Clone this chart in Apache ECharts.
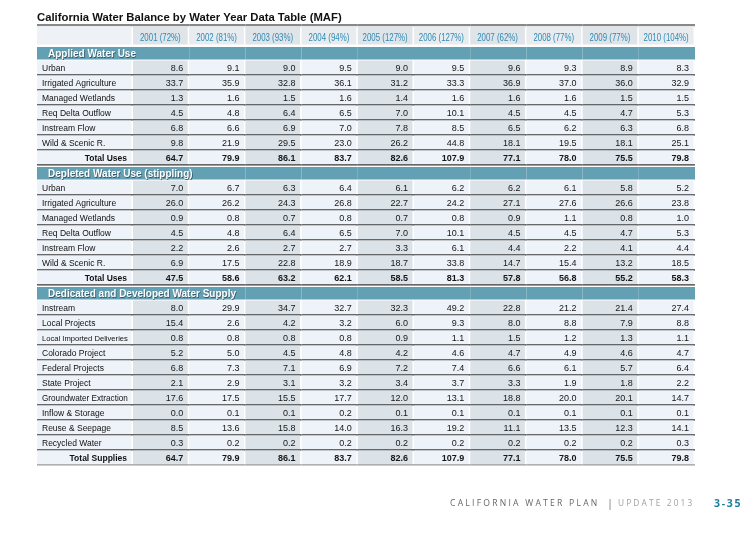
<!DOCTYPE html>
<html>
<head>
<meta charset="utf-8">
<script src="https://cdn.jsdelivr.net/npm/echarts@6/dist/echarts.min.js"></script>
<style>
html, body { margin: 0; padding: 0; background: #fff; }
#main { width: 756px; height: 535px; }
</style>
</head>
<body>
<div id="main"></div>
<script>
// column headings
const years = ['2001 (72%)', '2002 (81%)', '2003 (93%)', '2004 (94%)', '2005 (127%)',
               '2006 (127%)', '2007 (62%)', '2008 (77%)', '2009 (77%)', '2010 (104%)'];

// Applied Water Use
const appliedLabels = ['Urban', 'Irrigated Agriculture', 'Managed Wetlands', 'Req Delta Outflow', 'Instream Flow', 'Wild & Scenic R.'];
const appliedValues = [
    [8.6, 9.1, 9.0, 9.5, 9.0, 9.5, 9.6, 9.3, 8.9, 8.3],
    [33.7, 35.9, 32.8, 36.1, 31.2, 33.3, 36.9, 37.0, 36.0, 32.9],
    [1.3, 1.6, 1.5, 1.6, 1.4, 1.6, 1.6, 1.6, 1.5, 1.5],
    [4.5, 4.8, 6.4, 6.5, 7.0, 10.1, 4.5, 4.5, 4.7, 5.3],
    [6.8, 6.6, 6.9, 7.0, 7.8, 8.5, 6.5, 6.2, 6.3, 6.8],
    [9.8, 21.9, 29.5, 23.0, 26.2, 44.8, 18.1, 19.5, 18.1, 25.1]
];
const appliedTotals = [64.7, 79.9, 86.1, 83.7, 82.6, 107.9, 77.1, 78.0, 75.5, 79.8];

// Depleted Water Use
const depletedLabels = ['Urban', 'Irrigated Agriculture', 'Managed Wetlands', 'Req Delta Outflow', 'Instream Flow', 'Wild & Scenic R.'];
const depletedValues = [
    [7.0, 6.7, 6.3, 6.4, 6.1, 6.2, 6.2, 6.1, 5.8, 5.2],
    [26.0, 26.2, 24.3, 26.8, 22.7, 24.2, 27.1, 27.6, 26.6, 23.8],
    [0.9, 0.8, 0.7, 0.8, 0.7, 0.8, 0.9, 1.1, 0.8, 1.0],
    [4.5, 4.8, 6.4, 6.5, 7.0, 10.1, 4.5, 4.5, 4.7, 5.3],
    [2.2, 2.6, 2.7, 2.7, 3.3, 6.1, 4.4, 2.2, 4.1, 4.4],
    [6.9, 17.5, 22.8, 18.9, 18.7, 33.8, 14.7, 15.4, 13.2, 18.5]
];
const depletedTotals = [47.5, 58.6, 63.2, 62.1, 58.5, 81.3, 57.8, 56.8, 55.2, 58.3];

// Dedicated and Developed Water Supply
const supplyLabels = ['Instream', 'Local Projects', 'Local Imported Deliveries', 'Colorado Project', 'Federal Projects',
                      'State Project', 'Groundwater Extraction', 'Inflow & Storage', 'Reuse & Seepage', 'Recycled Water'];
const supplyValues = [
    [8.0, 29.9, 34.7, 32.7, 32.3, 49.2, 22.8, 21.2, 21.4, 27.4],
    [15.4, 2.6, 4.2, 3.2, 6.0, 9.3, 8.0, 8.8, 7.9, 8.8],
    [0.8, 0.8, 0.8, 0.8, 0.9, 1.1, 1.5, 1.2, 1.3, 1.1],
    [5.2, 5.0, 4.5, 4.8, 4.2, 4.6, 4.7, 4.9, 4.6, 4.7],
    [6.8, 7.3, 7.1, 6.9, 7.2, 7.4, 6.6, 6.1, 5.7, 6.4],
    [2.1, 2.9, 3.1, 3.2, 3.4, 3.7, 3.3, 1.9, 1.8, 2.2],
    [17.6, 17.5, 15.5, 17.7, 12.0, 13.1, 18.8, 20.0, 20.1, 14.7],
    [0.0, 0.1, 0.1, 0.2, 0.1, 0.1, 0.1, 0.1, 0.1, 0.1],
    [8.5, 13.6, 15.8, 14.0, 16.3, 19.2, 11.1, 13.5, 12.3, 14.1],
    [0.3, 0.2, 0.2, 0.2, 0.2, 0.2, 0.2, 0.2, 0.2, 0.3]
];
const supplyTotals = [64.7, 79.9, 86.1, 83.7, 82.6, 107.9, 77.1, 78.0, 75.5, 79.8];

const sections = [
    { title: 'Applied Water Use', labels: appliedLabels, values: appliedValues, total: 'Total Uses', totals: appliedTotals },
    { title: 'Depleted Water Use (stippling)', labels: depletedLabels, values: depletedValues, total: 'Total Uses', totals: depletedTotals },
    { title: 'Dedicated and Developed Water Supply', labels: supplyLabels, values: supplyValues, total: 'Total Supplies', totals: supplyTotals }
];

// flatten into table rows
const rows = [{ kind: 'head' }];
sections.forEach(s => {
    rows.push({ kind: 'section', text: s.title });
    s.labels.forEach((l, k) => rows.push({ kind: 'data', text: l, values: s.values[k] }));
    rows.push({ kind: 'total', text: s.total, values: s.totals });
});
const rowIds = rows.map((r, i) => String(i));

const FONT = '"Liberation Sans", Arial, sans-serif';
const TEAL = '#64a0b3';
const LINE = '#383838';

const measureCtx = document.createElement('canvas').getContext('2d');
function fitSize(text, size, weight, maxW) {
    measureCtx.font = weight + ' ' + size + 'px ' + FONT;
    const w = measureCtx.measureText(text).width;
    return w > maxW ? size * maxW / w : size;
}

function cellBox(api) {
    const c = api.coord([api.value(0), api.value(1)]);
    const s = api.size([1, 1]);
    return { cx: c[0], cy: c[1], x: c[0] - s[0] / 2, y: c[1] - s[1] / 2, w: s[0], h: s[1] };
}

function renderLabel(params, api) {
    const b = cellBox(api);
    const row = rows[api.value(1)];
    const last = api.value(1) === rows.length - 1;
    const kids = [];
    if (row.kind === 'head') {
        kids.push({ type: 'rect', shape: { x: b.x, y: b.y - 6.5, width: b.w, height: 2.2 }, style: { fill: '#888' } });
        kids.push({ type: 'rect', shape: { x: b.x, y: b.y - 4.3, width: b.w - 1.5, height: b.h + 3.3 }, style: { fill: '#eef2f6' } });
    } else if (row.kind === 'section') {
        kids.push({ type: 'rect', shape: { x: b.x, y: b.y + 1.5, width: b.w, height: b.h - 2.5 }, style: { fill: TEAL } });
        kids.push({ type: 'text', style: {
            text: row.text, x: b.x + 11, y: b.cy + 1.5, align: 'left', verticalAlign: 'middle',
            font: 'bold 10px ' + FONT, fill: '#fff',
            textShadowColor: 'rgba(20,40,50,0.6)', textShadowBlur: 0.5, textShadowOffsetX: 0.7, textShadowOffsetY: 0.7
        } });
    } else {
        kids.push({ type: 'rect', shape: { x: b.x, y: b.y, width: b.w - 1.5, height: b.h - 1 }, style: { fill: '#eef3f9' } });
        kids.push({ type: 'rect', shape: { x: b.x, y: b.y + b.h - 1.2, width: b.w, height: 1.2 }, style: { fill: last ? '#999' : LINE } });
        if (row.kind === 'total') {
            kids.push({ type: 'text', style: { text: row.text, x: b.x + b.w - 6, y: b.cy + 1, align: 'right', verticalAlign: 'middle', font: 'bold 8.5px ' + FONT, fill: '#111' } });
        } else {
            const fs = fitSize(row.text, 8.5, 'normal', b.w - 10);
            kids.push({ type: 'text', style: { text: row.text, x: b.x + 5, y: b.cy + 1, align: 'left', verticalAlign: 'middle', font: fs + 'px ' + FONT, fill: '#111' } });
        }
    }
    return { type: 'group', children: kids };
}

function renderCell(params, api) {
    const b = cellBox(api);
    const j = api.value(0);
    const row = rows[api.value(1)];
    const last = api.value(1) === rows.length - 1;
    const kids = [];
    if (row.kind === 'head') {
        kids.push({ type: 'rect', shape: { x: b.x, y: b.y - 6.5, width: b.w, height: 2.2 }, style: { fill: '#888' } });
        kids.push({ type: 'rect', shape: { x: b.x, y: b.y - 4.3, width: b.w - 1.5, height: b.h + 3.3 }, style: { fill: j % 2 === 0 ? '#dfe4e8' : '#e8ecef' } });
        kids.push({ type: 'text', x: b.cx - 0.75, y: b.cy + 0.5, scaleX: 0.75, style: {
            text: years[j], x: 0, y: 0, align: 'center', verticalAlign: 'middle', font: '10.5px ' + FONT, fill: '#2f8ab6'
        } });
    } else if (row.kind === 'section') {
        kids.push({ type: 'rect', shape: { x: b.x, y: b.y + 1.5, width: b.w, height: b.h - 2.5 }, style: { fill: TEAL } });
    } else {
        kids.push({ type: 'rect', shape: { x: b.x, y: b.y, width: b.w - 1.5, height: b.h - 1 }, style: { fill: j % 2 === 0 ? '#dce3e8' : '#eef3f9' } });
        kids.push({ type: 'rect', shape: { x: b.x, y: b.y + b.h - 1.2, width: b.w, height: 1.2 }, style: { fill: last ? '#999' : LINE } });
        kids.push({ type: 'text', style: {
            text: row.values[j].toFixed(1), x: b.x + b.w - 6, y: b.cy + 1, align: 'right', verticalAlign: 'middle',
            font: (row.kind === 'total' ? 'bold ' : '') + '9px ' + FONT, fill: '#161616'
        } });
    }
    return { type: 'group', children: kids };
}

const labelData = rows.map((r, i) => [0, i]);
const cellData = [];
rows.forEach((r, i) => years.forEach((y, j) => cellData.push([j, i])));

const option = {
    animation: false,
    title: {
        text: 'California Water Balance by Water Year Data Table (MAF)',
        left: 37, top: 12, padding: 0,
        textStyle: { fontFamily: FONT, fontSize: 11.3, fontWeight: 'bold', color: '#111' }
    },
    grid: [
        { left: 37, top: 30.5, width: 96, height: 435 },
        { left: 133, top: 30.5, width: 562, height: 435 }
    ],
    xAxis: [
        { gridIndex: 0, type: 'category', data: ['label'], show: false },
        { gridIndex: 1, type: 'category', data: years, show: false }
    ],
    yAxis: [
        { gridIndex: 0, type: 'category', data: rowIds, inverse: true, show: false },
        { gridIndex: 1, type: 'category', data: rowIds, inverse: true, show: false }
    ],
    series: [
        { type: 'custom', xAxisIndex: 1, yAxisIndex: 1, renderItem: renderCell, data: cellData, silent: true, z: 2 },
        { type: 'custom', xAxisIndex: 0, yAxisIndex: 0, renderItem: renderLabel, data: labelData, silent: true, z: 3 }
    ],
    graphic: [
        { type: 'text', x: 450, y: 504, style: { text: 'C A L I F O R N I A   W A T E R   P L A N', font: '8.6px "Open Sans", sans-serif', fill: '#666', verticalAlign: 'middle' } },
        { type: 'text', x: 607, y: 503.5, style: { text: '|', font: '11px "Open Sans", sans-serif', fill: '#777', verticalAlign: 'middle' } },
        { type: 'text', x: 618, y: 504, style: { text: 'U P D A T E   2 0 1 3', font: '8.3px "Open Sans", sans-serif', fill: '#a0a0a0', verticalAlign: 'middle' } },
        { type: 'text', x: 714, y: 504, style: { text: '3\u2009-\u20093\u20095', font: 'bold 10.5px "Open Sans", sans-serif', fill: '#1f7d9e', verticalAlign: 'middle' } }
    ]
};

const chart = echarts.init(document.getElementById('main'));
chart.setOption(option);
</script>
</body>
</html>
